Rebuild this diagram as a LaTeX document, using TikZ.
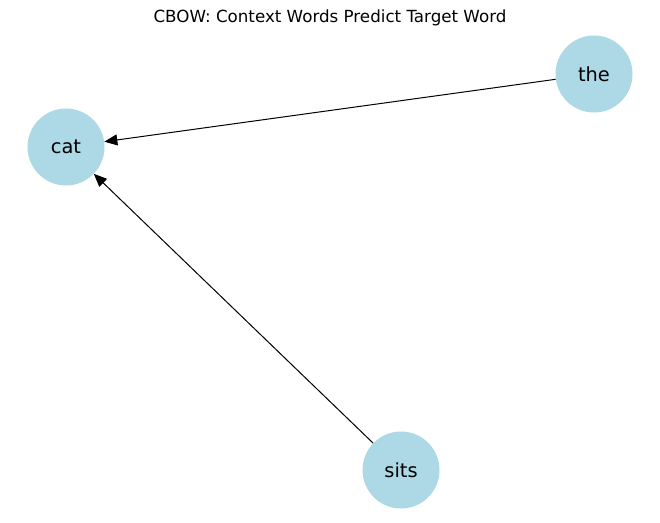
\documentclass[tikz,border=0pt]{standalone}
\usepackage{fontspec}
\setmainfont{DejaVu Sans}
\usetikzlibrary{arrows.meta}
\definecolor{nodeblue}{HTML}{ADD8E6}
\begin{document}
\begin{tikzpicture}[x=1pt,y=-1pt,
  word/.style={circle,fill=nodeblue,draw=none,minimum size=77pt,inner sep=0pt,font=\fontsize{19.4}{22}\selectfont},
  link/.style={draw=black,line width=1pt,-{Triangle[length=13pt,width=11pt]}}]
\useasboundingbox (0,0) rectangle (660,522);
\node[font=\fontsize{16.7}{19}\selectfont] (title) at (330,18) {CBOW: Context Words Predict Target Word};
\node[word] (cat) at (66,147) {cat};
\node[word] (the) at (594,74) {the};
\node[word] (sits) at (401,470) {sits};
\draw[link] (the) -- (cat);
\draw[link] (sits) -- (cat);
\end{tikzpicture}
\end{document}
